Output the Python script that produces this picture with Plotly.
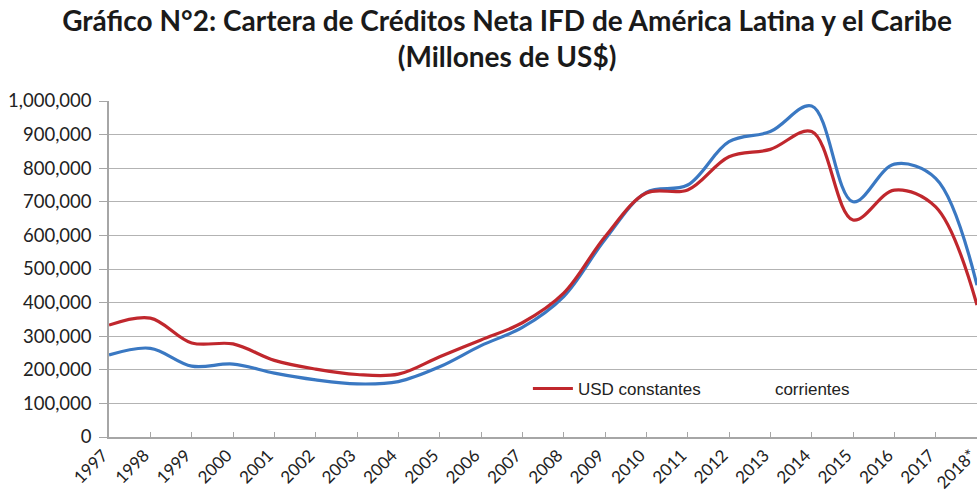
import plotly.graph_objects as go

years = ["1997", "1998", "1999", "2000", "2001", "2002", "2003", "2004", "2005", "2006", "2007",
         "2008", "2009", "2010", "2011", "2012", "2013", "2014", "2015", "2016", "2017", "2018*"]
usd_constantes = [333000, 354000, 280000, 277000, 228000, 202000, 186000, 187000, 239000, 289000, 340000,
                  428000, 596000, 726000, 735000, 834000, 856000, 909000, 646000, 735000, 685000, 393000]
usd_corrientes = [244000, 264000, 211000, 217000, 190000, 170000, 158000, 165000, 209000, 272000, 326000,
                  418000, 588000, 728000, 750000, 879000, 909000, 985000, 700000, 812000, 770000, 452000]
y_ticks = [0, 100000, 200000, 300000, 400000, 500000, 600000, 700000, 800000, 900000, 1000000]

RED = "#c0272d"
BLUE = "#3a78c2"

fig = go.Figure()
fig.add_trace(go.Scatter(x=years, y=usd_corrientes, mode="lines", name="corrientes_line",
                         line=dict(color=BLUE, width=3.2, shape="spline", smoothing=1.0),
                         showlegend=False))
fig.add_trace(go.Scatter(x=years, y=usd_constantes, mode="lines", name="USD constantes",
                         line=dict(color=RED, width=3.2, shape="spline", smoothing=1.0)))
fig.add_trace(go.Scatter(x=[None], y=[None], mode="lines", name="corrientes",
                         line=dict(color="rgba(0,0,0,0)", width=3)))

fig.update_layout(
    width=977, height=499,
    margin=dict(l=109, r=0, t=101, b=62, autoexpand=False),
    paper_bgcolor="white", plot_bgcolor="white",
    title=dict(
        text="Gráfico N°2: Cartera de Créditos Neta IFD de América Latina y el Caribe<br>(Millones de US$)",
        x=0.519, xanchor="center", y=0.938, yanchor="middle",
        font=dict(family="Lato", size=28, color="#1a1a1a", weight="bold"),
    ),
    legend=dict(orientation="h", x=0.4826, xanchor="left", y=0.143, yanchor="middle",
                font=dict(family="Liberation Sans", size=17, color="#222"),
                bgcolor="rgba(255,255,255,0)", itemwidth=40, tracegroupgap=0,
                entrywidth=142, entrywidthmode="pixels"),
    showlegend=True,
)
fig.update_xaxes(
    type="category", range=[0, 21], automargin=False,
    showgrid=False, showline=True, linecolor="#a6a6a6", linewidth=1.5,
    ticks="inside", ticklen=5, tickcolor="#a6a6a6",
    tickangle=-45, ticklabelshift=-6,
    tickfont=dict(family="Lato", size=17, color="#222"),
)
fig.update_yaxes(
    range=[0, 1000000], tickvals=y_ticks, tickformat=",d", automargin=False,
    showgrid=True, gridcolor="#b3b3b3", gridwidth=1.2,
    showline=True, linecolor="#a6a6a6", linewidth=1.5,
    ticks="outside", ticklen=8, tickcolor="#a6a6a6", ticklabelstandoff=4,
    tickfont=dict(family="Lato", size=18.5, color="#222"),
    zeroline=False,
)

fig.write_html("out.html", config={"displayModeBar": False},
               post_script="document.body.style.margin='0';document.body.style.overflow='hidden';")
